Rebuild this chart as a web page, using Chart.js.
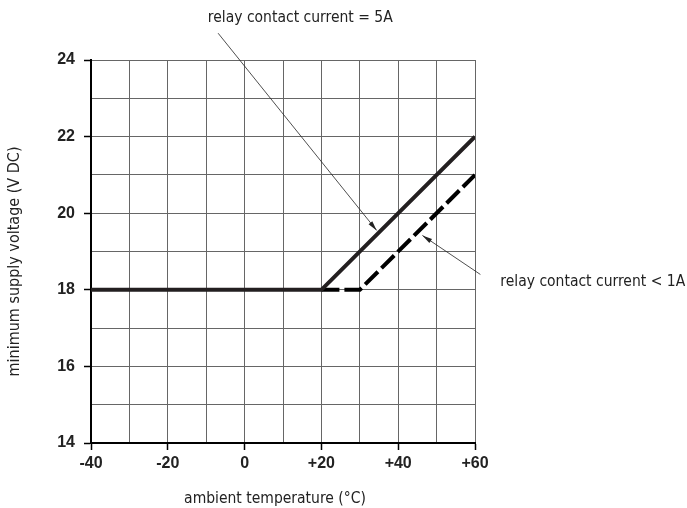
<!DOCTYPE html>
<html>
<head>
<meta charset="utf-8">
<script src="https://cdn.jsdelivr.net/npm/chart.js@4.4.1/dist/chart.umd.min.js"></script>
<style>
  html, body { margin: 0; padding: 0; background: #fff; }
  #wrap { width: 687px; height: 508px; }
</style>
</head>
<body>
<div id="wrap"><canvas id="chart"></canvas></div>
<script>
/* ---- data ---- */
const tempTicks = [-40, -20, 0, 20, 40, 60];
const voltTicks = [14, 16, 18, 20, 22, 24];

const current5A = [[-40, 18], [20, 18], [60, 22]];
const currentLt1A = [[20, 18], [30, 18], [60, 21]];

// callouts: text anchor + leader line (from -> to) in data units
const label5A = 'relay contact current = 5A';
const label5AAt = [14.5, 25.1];
const arrow5A = [[-6.9, 24.7], [34.4, 19.55]];

const label1A = 'relay contact current < 1A';
const label1AAt = [66.6, 18.2];
const arrow1A = [[61.4, 18.4], [46.3, 19.42]];

const xTitle = 'ambient temperature (°C)';
const yTitle = 'minimum supply voltage (V DC)';

const NARROW = '"Liberation Sans Narrow", "DejaVu Sans Condensed", "Liberation Sans", sans-serif';
const BOLD = '"Liberation Sans", Arial, sans-serif';
const GRID = '#666';

const toPts = arr => arr.map(p => ({ x: p[0], y: p[1] }));

// leader lines with small arrowheads, free text and axis titles
const callouts = {
    id: 'callouts',
    afterDraw(chart) {
        const { ctx, chartArea, scales: { x, y } } = chart;
        const px = p => [x.getPixelForValue(p[0]), y.getPixelForValue(p[1])];

        const arrow = (seg) => {
            const [x0, y0] = px(seg[0]);
            const [x1, y1] = px(seg[1]);
            const a = Math.atan2(y1 - y0, x1 - x0);
            ctx.save();
            ctx.strokeStyle = '#222';
            ctx.fillStyle = '#222';
            ctx.lineWidth = 0.8;
            ctx.beginPath();
            ctx.moveTo(x0, y0);
            ctx.lineTo(x1, y1);
            ctx.stroke();
            const len = 10, w = 2.4;
            ctx.beginPath();
            ctx.moveTo(x1, y1);
            ctx.lineTo(x1 - len * Math.cos(a) + w * Math.sin(a), y1 - len * Math.sin(a) - w * Math.cos(a));
            ctx.lineTo(x1 - len * Math.cos(a) - w * Math.sin(a), y1 - len * Math.sin(a) + w * Math.cos(a));
            ctx.closePath();
            ctx.fill();
            ctx.restore();
        };
        arrow(arrow5A);
        arrow(arrow1A);

        ctx.save();
        ctx.fillStyle = '#222';
        ctx.font = '15.5px ' + NARROW;
        ctx.textBaseline = 'middle';
        let [tx, ty] = px(label5AAt);
        ctx.textAlign = 'center';
        ctx.fillText(label5A, tx, ty);
        [tx, ty] = px(label1AAt);
        ctx.textAlign = 'left';
        ctx.fillText(label1A, tx, ty);

        // axis titles
        ctx.textAlign = 'center';
        ctx.fillText(xTitle, (chartArea.left + chartArea.right) / 2 - 8, 499);
        ctx.font = '16px ' + NARROW;
        ctx.translate(15, (chartArea.top + chartArea.bottom) / 2 + 10);
        ctx.rotate(-Math.PI / 2);
        ctx.fillText(yTitle, 0, 0);
        ctx.restore();
    }
};

new Chart(document.getElementById('chart'), {
    type: 'scatter',
    data: {
        datasets: [
            {
                label: '5A',
                data: toPts(current5A),
                showLine: true,
                borderColor: '#231f20',
                borderWidth: 4,
                pointRadius: 0,
                borderCapStyle: 'butt',
                borderJoinStyle: 'miter'
            },
            {
                label: '<1A',
                data: toPts(currentLt1A),
                showLine: true,
                borderColor: '#000',
                borderWidth: 4,
                borderDash: [18, 5],
                pointRadius: 0,
                borderCapStyle: 'butt',
                borderJoinStyle: 'miter'
            }
        ]
    },
    options: {
        responsive: true,
        maintainAspectRatio: false,
        animation: false,
        layout: { padding: { top: 60, right: 212, left: 0, bottom: 0 } },
        plugins: { legend: { display: false }, tooltip: { enabled: false } },
        scales: {
            x: {
                type: 'linear',
                min: -40, max: 60,
                ticks: {
                    stepSize: 10,
                    padding: 4,
                    color: '#222',
                    font: { family: BOLD, size: 16, weight: 'bold' },
                    maxRotation: 0,
                    autoSkip: false,
                    callback: v => tempTicks.includes(v) ? (v > 0 ? '+' + v : String(v)) : ''
                },
                grid: {
                    color: GRID,
                    lineWidth: 1,
                    tickLength: 7,
                    tickColor: c => tempTicks.includes(c.tick.value) ? '#000' : 'rgba(0,0,0,0)',
                    tickWidth: 1.5
                },
                border: { color: '#000', width: 2 },
                afterFit: s => { s.height = 65; }
            },
            y: {
                min: 14, max: 24,
                ticks: {
                    stepSize: 1,
                    padding: 9,
                    color: '#222',
                    font: { family: BOLD, size: 16, weight: 'bold' },
                    autoSkip: false,
                    callback: v => voltTicks.includes(v) ? String(v) : ''
                },
                grid: {
                    color: GRID,
                    lineWidth: 1,
                    tickLength: 7,
                    tickColor: c => voltTicks.includes(c.tick.value) ? '#000' : 'rgba(0,0,0,0)',
                    tickWidth: 1.5
                },
                border: { color: '#000', width: 2 },
                afterFit: s => { s.width = 91; }
            }
        }
    },
    plugins: [callouts]
});
</script>
</body>
</html>
